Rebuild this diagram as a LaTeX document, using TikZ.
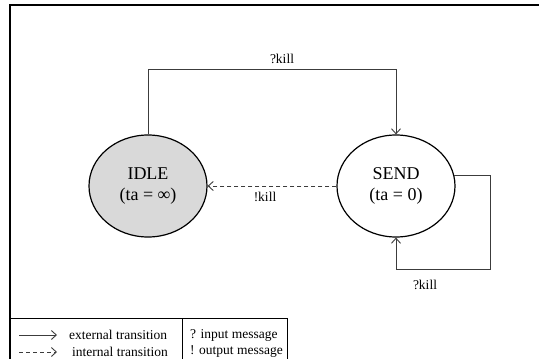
\documentclass[tikz,border=0pt]{standalone}
\usepackage{fontspec}
\setmainfont{Liberation Serif}
\usetikzlibrary{shapes.geometric,arrows.meta}
\definecolor{linegray}{HTML}{3C3C3C}
\definecolor{idlegray}{HTML}{D9D9D9}

\begin{document}
\begin{tikzpicture}[x=1pt,y=-1pt,
  state/.style={ellipse,draw=black,line width=1.2pt,minimum width=118pt,minimum height=102pt,inner sep=0pt,align=center,font=\fontsize{18}{21}\selectfont},
  ext/.style={draw=linegray,line width=0.9pt,-{Straight Barb[length=5pt,width=9pt]}},
  int/.style={ext,dash pattern=on 4pt off 3pt},
  lbl/.style={font=\fontsize{13.5}{15}\selectfont,inner sep=0pt}]
\useasboundingbox (0,0) rectangle (539,359);
\draw[line width=1.4pt] (10,362) -- (10,5) -- (542,5);

\node [state,fill=idlegray] (idle) at (148,186) {IDLE\\(ta = ∞)};
\node [state,fill=white] (send) at (396,186) {SEND\\(ta = 0)};

\draw[ext] (idle.north) -- ++(0,-65) -| (send.north);
\node [lbl] (topkill) at (282,59) {?kill};

\draw[int] (send.west) -- (idle.east);
\node [lbl] (intkill) at (265,197) {!kill};

\draw[ext] (send.10) -- ++(36,0) |- ([yshift=-32pt]send.south) -- (send.south);
\node [lbl] (loopkill) at (425,285) {?kill};

% legend
\draw[line width=0.9pt] (10,318) rectangle (287,362);
\draw[line width=0.9pt] (182,318) -- (182,362);
\coordinate (exta) at (19,335);
\coordinate (extb) at (57,335);
\coordinate (inta) at (19,352);
\coordinate (intb) at (57,352);
\draw[ext] (exta) -- (extb);
\draw[int] (inta) -- (intb);
\node [lbl,anchor=west] (exttxt) at (69,335) {external transition};
\node [lbl,anchor=west] (inttxt) at (72,352) {internal transition};
\node [lbl,anchor=west] (inmsg) at (190,335) {? input message};
\node [lbl,anchor=west] (outmsg) at (190,352) {! output message};
\end{tikzpicture}
\end{document}
